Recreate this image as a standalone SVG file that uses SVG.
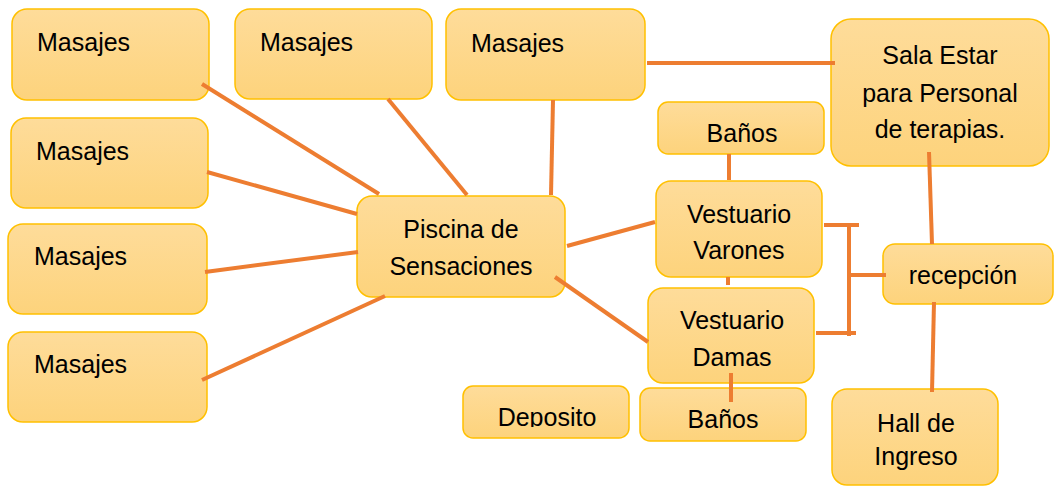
<svg xmlns="http://www.w3.org/2000/svg" width="1054" height="488" viewBox="0 0 1054 488">
<style>
.box{fill:url(#g);stroke:#FFC000;stroke-width:1.5}
.t{font-family:"Liberation Sans",Arial,sans-serif;font-size:25px;fill:#000}
.c{text-anchor:middle}
.ln{stroke:#ED7D31;stroke-width:4;fill:none}
</style>
<defs>
<linearGradient id="g" x1="0" y1="0" x2="0" y2="1">
<stop offset="0" stop-color="#FEDC9A"/>
<stop offset="1" stop-color="#FDD37C"/>
</linearGradient>
<clipPath id="clipDep"><rect x="463" y="386" width="166" height="41"/></clipPath>
</defs>
<rect width="1054" height="488" fill="#fff"/>
<g id="m1"><rect class="box" x="12" y="9" width="197" height="91" rx="15"/><text class="t" x="37" y="51">Masajes</text></g>
<g id="m2"><rect class="box" x="235" y="9" width="197" height="90" rx="15"/><text class="t" x="260" y="51">Masajes</text></g>
<g id="m3"><rect class="box" x="446" y="9" width="199" height="91" rx="15"/><text class="t" x="471" y="52">Masajes</text></g>
<g id="m4"><rect class="box" x="11" y="118" width="197" height="90" rx="15"/><text class="t" x="36" y="160">Masajes</text></g>
<g id="m5"><rect class="box" x="8" y="224" width="199" height="90" rx="15"/><text class="t" x="34" y="265">Masajes</text></g>
<g id="m6"><rect class="box" x="8" y="332" width="199" height="90" rx="15"/><text class="t" x="34" y="373">Masajes</text></g>
<g id="sala"><rect class="box" x="831" y="19" width="218" height="147" rx="20"/><text class="t c" x="940" y="64">Sala Estar</text><text class="t c" x="940" y="102">para Personal</text><text class="t c" x="940" y="138">de terapias.</text></g>
<g id="banosTop"><rect class="box" x="658" y="102" width="166" height="52" rx="10"/><text class="t c" x="742" y="142">Baños</text></g>
<g id="piscina"><rect class="box" x="357" y="196" width="208" height="101" rx="15"/><text class="t c" x="461" y="238">Piscina de</text><text class="t c" x="461" y="275">Sensaciones</text></g>
<g id="varones"><rect class="box" x="656" y="181" width="166" height="96" rx="15"/><text class="t c" x="739" y="223">Vestuario</text><text class="t c" x="739" y="259">Varones</text></g>
<g id="damas"><rect class="box" x="648" y="288" width="166" height="95" rx="15"/><text class="t c" x="732" y="329">Vestuario</text><text class="t c" x="732" y="366">Damas</text></g>
<g id="deposito"><rect class="box" x="463" y="386" width="166" height="52" rx="10"/><text class="t c" x="547" y="426" clip-path="url(#clipDep)">Deposito</text></g>
<g id="banosBottom"><rect class="box" x="640" y="388" width="166" height="53" rx="10"/><text class="t c" x="723" y="428">Baños</text></g>
<g id="recepcion"><rect class="box" x="883" y="244" width="170" height="60" rx="12"/><text class="t c" x="963" y="284">recepción</text></g>
<g id="hall"><rect class="box" x="832" y="389" width="166" height="96" rx="15"/><text class="t c" x="916" y="432">Hall de</text><text class="t c" x="916" y="465">Ingreso</text></g>
<g id="connectors">
<line class="ln" x1="202" y1="84" x2="379" y2="194"/>
<line class="ln" x1="388" y1="99" x2="467" y2="195"/>
<line class="ln" x1="553" y1="100" x2="551" y2="195"/>
<line class="ln" x1="207" y1="172" x2="357" y2="214"/>
<line class="ln" x1="205" y1="272" x2="358" y2="252"/>
<line class="ln" x1="202" y1="380" x2="385" y2="296"/>
<line class="ln" x1="647" y1="63" x2="835" y2="63"/>
<line class="ln" x1="567" y1="246" x2="655" y2="222"/>
<line class="ln" x1="555" y1="277" x2="648" y2="342"/>
<line class="ln" x1="729" y1="154" x2="729" y2="180"/>
<line class="ln" x1="728" y1="277" x2="728" y2="285"/>
<line class="ln" x1="731" y1="373" x2="731" y2="402"/>
<line class="ln" x1="929" y1="152" x2="932" y2="244"/>
<line class="ln" x1="934" y1="302" x2="932" y2="392"/>
<path class="ln" d="M824 225 H859 M849 225 V336 M849 275 H886 M816 333 H856"/>
</g>
</svg>
